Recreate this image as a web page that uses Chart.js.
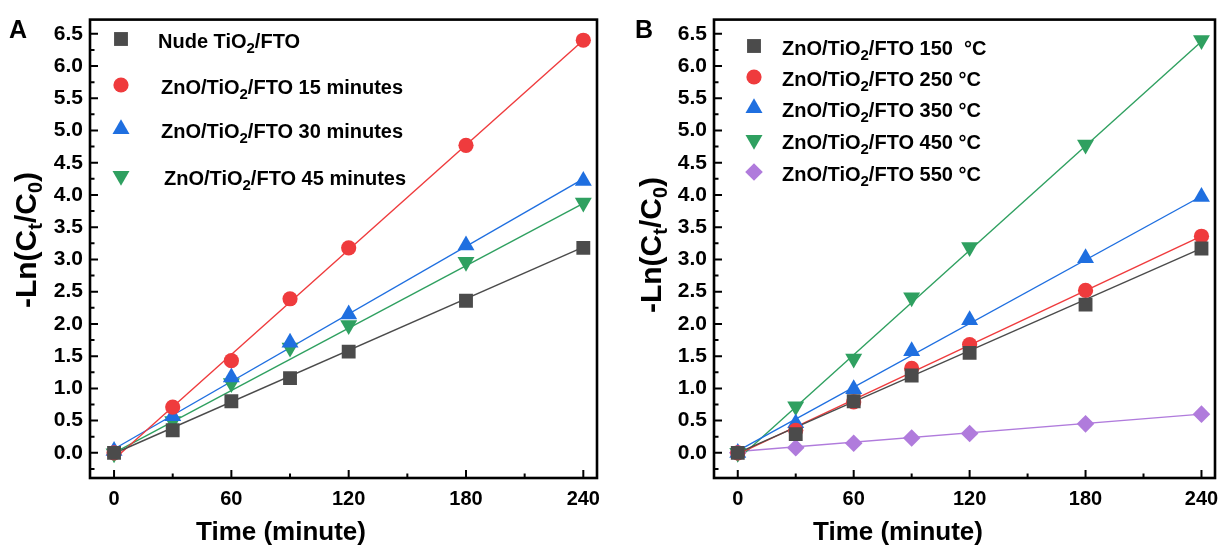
<!DOCTYPE html>
<html>
<head>
<meta charset="utf-8">
<script src="https://cdn.jsdelivr.net/npm/chart.js@4.4.1/dist/chart.umd.min.js"></script>
<style>
  html, body { margin: 0; padding: 0; background: #fff; }
  #wrap { position: relative; width: 1228px; height: 548px; }
  canvas { position: absolute; top: 0; }
</style>
</head>
<body>
<div id="wrap">
  <canvas id="chartA" width="614" height="548" style="left:0px"></canvas>
  <canvas id="chartB" width="614" height="548" style="left:614px"></canvas>
</div>
<script>
// shared x values (minutes)
const times = [0, 30, 60, 90, 120, 180, 240];

// panel A : deposition time
const nudeTiO2 = [0, 0.35, 0.80, 1.16, 1.57, 2.36, 3.18];
const zno15min = [0, 0.71, 1.43, 2.39, 3.18, 4.77, 6.40];
const zno30min = [0.03, 0.57, 1.17, 1.71, 2.15, 3.22, 4.22];
const zno45min = [-0.01, 0.49, 1.08, 1.63, 1.98, 2.96, 3.88];
// fitted lines, value at t=0 and t=240
const fitA = [[-0.01, 3.19], [-0.10, 6.40], [0.06, 4.25], [0.0, 3.87]];

// panel B : annealing temperature
const zno150 = [0, 0.29, 0.80, 1.20, 1.55, 2.30, 3.17];
const zno250 = [0, 0.35, 0.79, 1.31, 1.68, 2.52, 3.36];
const zno350 = [0, 0.46, 0.99, 1.58, 2.06, 3.02, 3.97];
const zno450 = [0, 0.72, 1.46, 2.41, 3.19, 4.78, 6.40];
const zno550 = [0, 0.08, 0.15, 0.23, 0.30, 0.45, 0.60];
const fitB = [[0.0, 3.17], [-0.02, 3.36], [0.03, 3.98], [-0.10, 6.38], [0.02, 0.60]];

const xMajor = [0, 60, 120, 180, 240];
const xMinor = [30, 90, 150, 210];
const yMajor = [0, 0.5, 1, 1.5, 2, 2.5, 3, 3.5, 4, 4.5, 5, 5.5, 6, 6.5];
const yMinor = [-0.25, 0.25, 0.75, 1.25, 1.75, 2.25, 2.75, 3.25, 3.75, 4.25, 4.75, 5.25, 5.75, 6.25];

const labelsA = ['Nude TiO2/FTO', 'ZnO/TiO2/FTO 15 minutes', 'ZnO/TiO2/FTO 30 minutes', 'ZnO/TiO2/FTO 45 minutes'];
const labelsB = ['ZnO/TiO2/FTO 150  \u00B0C', 'ZnO/TiO2/FTO 250 \u00B0C', 'ZnO/TiO2/FTO 350 \u00B0C', 'ZnO/TiO2/FTO 450 \u00B0C', 'ZnO/TiO2/FTO 550 \u00B0C'];

const COLORS = ['#4b4b4b', '#ef3b3d', '#1f6fe0', '#2fa060', '#b07bdc'];
const SHAPES = [
  { style: 'rect', r: 9.8, rot: 0 },
  { style: 'circle', r: 7.6, rot: 0 },
  { style: 'triangle', r: 9.8, rot: 0 },
  { style: 'triangle', r: 9.8, rot: 180 },
  { style: 'rectRot', r: 8.8, rot: 0 }
];
const FONT = '"Liberation Sans", Arial, Helvetica, sans-serif';

function pts(ys) {
  return times.map((t, i) => ({ x: t, y: ys[i] }));
}

function buildDatasets(series, fits) {
  var sets = [];
  series.forEach(function (ys, i) {
    sets.push({
      data: pts(ys),
      showLine: false,
      pointStyle: SHAPES[i].style,
      pointRadius: SHAPES[i].r,
      pointRotation: SHAPES[i].rot,
      pointBackgroundColor: COLORS[i],
      pointBorderColor: COLORS[i],
      pointBorderWidth: 0,
      order: 1
    });
  });
  fits.forEach(function (f, i) {
    sets.push({
      data: [{ x: 0, y: f[0] }, { x: 240, y: f[1] }],
      showLine: true,
      borderColor: COLORS[i],
      borderWidth: 1.4,
      pointRadius: 0,
      order: 2
    });
  });
  return sets;
}

// split "TiO2" so the 2 can be drawn as a subscript
function richParts(label) {
  var idx = label.indexOf('TiO2');
  if (idx < 0) return [{ t: label }];
  return [
    { t: label.slice(0, idx + 3) },
    { t: '2', sub: true },
    { t: label.slice(idx + 4) }
  ];
}

function drawRich(ctx, parts, x, y, size, subSize, subShift, align) {
  var w = 0;
  parts.forEach(function (p) {
    ctx.font = 'bold ' + (p.sub ? subSize : size) + 'px ' + FONT;
    p.w = ctx.measureText(p.t).width;
    w += p.w;
  });
  var cx = align === 'center' ? x - w / 2 : x;
  ctx.textBaseline = 'alphabetic';
  ctx.textAlign = 'left';
  parts.forEach(function (p) {
    ctx.font = 'bold ' + (p.sub ? subSize : size) + 'px ' + FONT;
    ctx.fillText(p.t, cx, p.sub ? y + subShift : y);
    cx += p.w;
  });
}

function drawMarker(ctx, i, x, y) {
  ctx.save();
  ctx.fillStyle = COLORS[i];
  ctx.beginPath();
  var s = SHAPES[i];
  if (s.style === 'rect') {
    var h = s.r * Math.SQRT1_2;
    ctx.rect(x - h, y - h, 2 * h, 2 * h);
  } else if (s.style === 'circle') {
    ctx.arc(x, y, s.r, 0, Math.PI * 2);
  } else if (s.style === 'triangle') {
    var dir = s.rot ? -1 : 1;
    ctx.moveTo(x, y - dir * s.r);
    ctx.lineTo(x + s.r * Math.sqrt(3) / 2, y + dir * s.r / 2);
    ctx.lineTo(x - s.r * Math.sqrt(3) / 2, y + dir * s.r / 2);
    ctx.closePath();
  } else {
    ctx.moveTo(x, y - s.r);
    ctx.lineTo(x + s.r, y);
    ctx.lineTo(x, y + s.r);
    ctx.lineTo(x - s.r, y);
    ctx.closePath();
  }
  ctx.fill();
  ctx.restore();
}

const framePlugin = {
  id: 'frame',
  afterDraw(chart, args, opts) {
    var ctx = chart.ctx;
    var a = chart.chartArea;
    var xs = chart.scales.x, ys = chart.scales.y;
    ctx.save();
    ctx.strokeStyle = '#000';
    // inward ticks
    ctx.lineWidth = 2;
    ctx.beginPath();
    xMajor.forEach(function (v) { var p = xs.getPixelForValue(v); ctx.moveTo(p, a.bottom); ctx.lineTo(p, a.bottom - 8); });
    xMinor.forEach(function (v) { var p = xs.getPixelForValue(v); ctx.moveTo(p, a.bottom); ctx.lineTo(p, a.bottom - 4.5); });
    yMajor.forEach(function (v) { var p = ys.getPixelForValue(v); ctx.moveTo(a.left, p); ctx.lineTo(a.left + 8, p); });
    yMinor.forEach(function (v) { var p = ys.getPixelForValue(v); ctx.moveTo(a.left, p); ctx.lineTo(a.left + 4.5, p); });
    ctx.stroke();
    // frame
    ctx.lineWidth = 2.6;
    ctx.strokeRect(a.left, a.top, a.right - a.left, a.bottom - a.top);

    ctx.fillStyle = '#000';
    // panel letter
    ctx.font = 'bold 25px ' + FONT;
    ctx.textAlign = 'left';
    ctx.textBaseline = 'alphabetic';
    ctx.fillText(opts.letter, opts.letterX, 38);

    // x title
    drawRich(ctx, [{ t: 'Time (minute)' }], opts.xTitleX, 540, 26, 18, 0, 'center');

    // y title
    ctx.save();
    ctx.translate(opts.yTitleX, opts.yTitleY);
    ctx.rotate(-Math.PI / 2);
    drawRich(ctx, [{ t: '-Ln(C' }, { t: 't', sub: true }, { t: '/C' }, { t: '0', sub: true }, { t: ')' }], 0, 10, 30, 20, 6, 'center');
    ctx.restore();

    // legend
    opts.labels.forEach(function (lab, i) {
      drawMarker(ctx, i, opts.legX, opts.legY[i]);
      ctx.fillStyle = '#000';
      drawRich(ctx, richParts(lab), opts.legTextX[i], opts.legY[i] + 9, 20, 15, 5, 'left');
    });
    ctx.restore();
  }
};

function makeChart(id, datasets, yWidth, rightPad, pluginOpts) {
  return new Chart(document.getElementById(id), {
    type: 'scatter',
    data: { datasets: datasets },
    plugins: [framePlugin],
    options: {
      responsive: false,
      animation: false,
      events: [],
      layout: { padding: { left: 0, right: rightPad, top: 14, bottom: 0 } },
      plugins: {
        legend: { display: false },
        tooltip: { enabled: false },
        frame: pluginOpts
      },
      scales: {
        x: {
          type: 'linear',
          min: -12.3,
          max: 247,
          grid: { display: false, drawTicks: false },
          border: { display: false },
          afterFit: function (s) { s.height = 70; },
          afterBuildTicks: function (s) { s.ticks = xMajor.map(v => ({ value: v })); },
          ticks: {
            padding: 9,
            color: '#000',
            font: { family: FONT, size: 20, weight: 'bold' },
            callback: v => String(v)
          }
        },
        y: {
          type: 'linear',
          min: -0.39,
          max: 6.72,
          grid: { display: false, drawTicks: false },
          border: { display: false },
          afterFit: function (s) { s.width = yWidth; },
          afterBuildTicks: function (s) { s.ticks = yMajor.map(v => ({ value: v })); },
          ticks: {
            padding: 7,
            color: '#000',
            font: { family: FONT, size: 21, weight: 'bold' },
            callback: v => Number(v).toFixed(1)
          }
        }
      }
    }
  });
}

makeChart('chartA', buildDatasets([nudeTiO2, zno15min, zno30min, zno45min], fitA), 90, 17, {
  letter: 'A', letterX: 9,
  xTitleX: 281, yTitleX: 26, yTitleY: 240,
  labels: labelsA, legX: 121, legY: [39, 85, 129, 176], legTextX: [158, 161, 161, 164]
});

makeChart('chartB', buildDatasets([zno150, zno250, zno350, zno450, zno550], fitB), 100, 13, {
  letter: 'B', letterX: 21,
  xTitleX: 284, yTitleX: 37, yTitleY: 245,
  labels: labelsB, legX: 140, legY: [46, 77, 108, 140, 172], legTextX: [168, 168, 168, 168, 168]
});
</script>
</body>
</html>
